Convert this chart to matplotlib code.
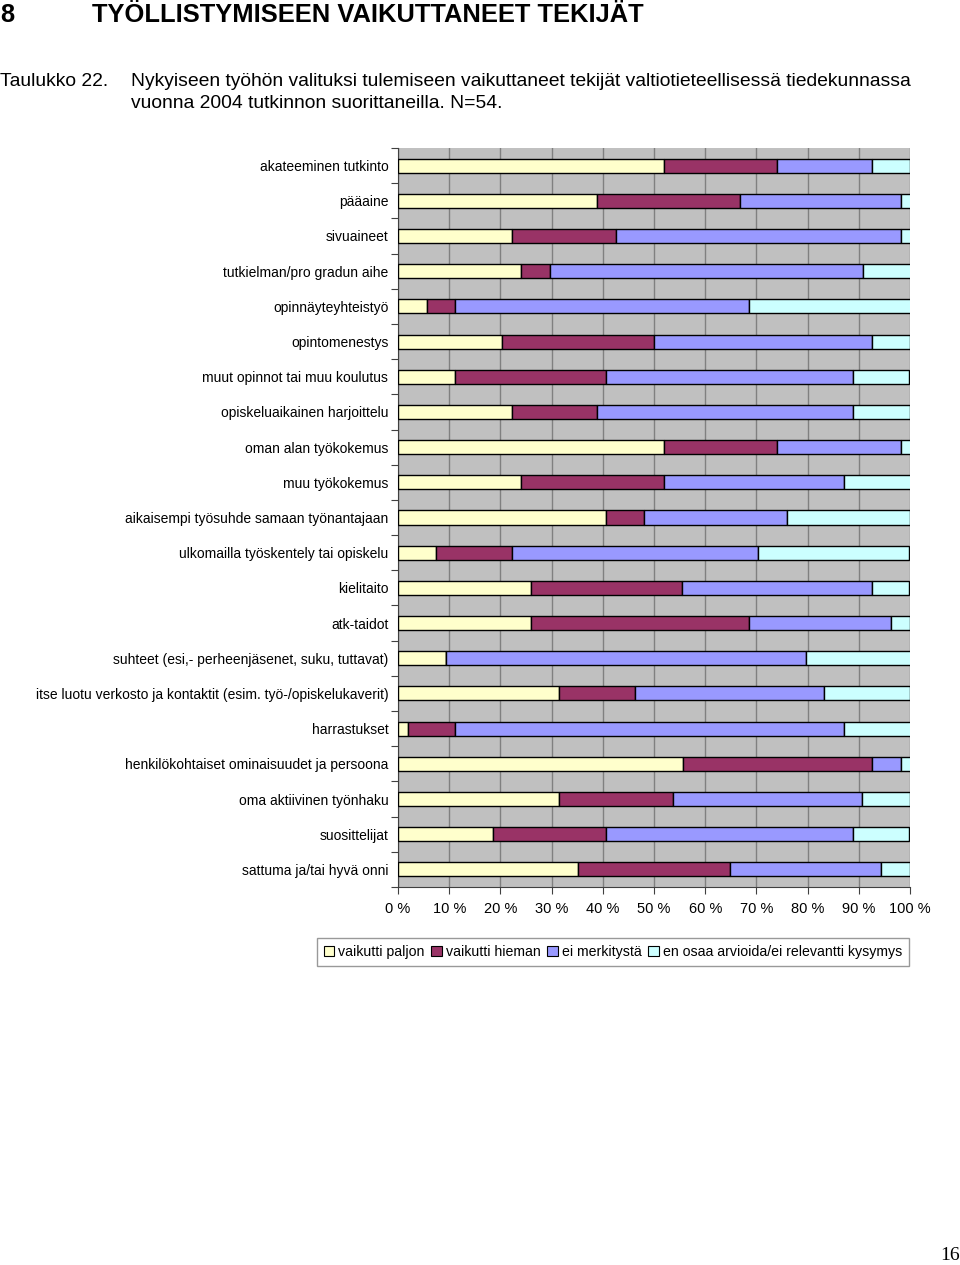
import matplotlib
matplotlib.use("Agg")
import matplotlib.pyplot as plt
from matplotlib.patches import Rectangle
import numpy as np

plt.rcParams['font.family'] = ['Liberation Sans', 'DejaVu Sans']

categories = [
    "akateeminen tutkinto",
    "pääaine",
    "sivuaineet",
    "tutkielman/pro gradun aihe",
    "opinnäyteyhteistyö",
    "opintomenestys",
    "muut opinnot tai muu koulutus",
    "opiskeluaikainen harjoittelu",
    "oman alan työkokemus",
    "muu työkokemus",
    "aikaisempi työsuhde samaan työnantajaan",
    "ulkomailla työskentely tai opiskelu",
    "kielitaito",
    "atk-taidot",
    "suhteet (esi,- perheenjäsenet, suku, tuttavat)",
    "itse luotu verkosto ja kontaktit (esim. työ-/opiskelukaverit)",
    "harrastukset",
    "henkilökohtaiset ominaisuudet ja persoona",
    "oma aktiivinen työnhaku",
    "suosittelijat",
    "sattuma ja/tai hyvä onni",
]

vaikutti_paljon = [51.9, 38.9, 22.2, 24.1, 5.6, 20.4, 11.1, 22.2, 51.9, 24.1,
                   40.7, 7.4, 25.9, 25.9, 9.3, 31.5, 1.9, 55.6, 31.5, 18.5, 35.2]
vaikutti_hieman = [22.2, 27.8, 20.4, 5.6, 5.6, 29.6, 29.6, 16.7, 22.2, 27.8,
                   7.4, 14.8, 29.6, 42.6, 0.0, 14.8, 9.3, 37.0, 22.2, 22.2, 29.6]
ei_merkitysta = [18.5, 31.5, 55.6, 61.1, 57.4, 42.6, 48.1, 50.0, 24.1, 35.2,
                 27.8, 48.1, 37.0, 27.8, 70.4, 37.0, 75.9, 5.6, 37.0, 48.1, 29.6]
en_osaa = [7.4, 1.9, 1.9, 9.3, 31.5, 7.4, 11.1, 11.1, 1.9, 13.0,
           24.1, 29.6, 7.4, 3.7, 20.4, 16.7, 13.0, 1.9, 9.3, 11.1, 5.6]

series_names = ["vaikutti paljon", "vaikutti hieman", "ei merkitystä",
                "en osaa arvioida/ei relevantti kysymys"]
series_values = [vaikutti_paljon, vaikutti_hieman, ei_merkitysta, en_osaa]
colors = ["#FFFFCC", "#993366", "#9999FF", "#CCFFFF"]
xtick_values = list(range(0, 101, 10))
xtick_labels = [f"{v} %" for v in xtick_values]

W, H = 960, 1265
fig = plt.figure(figsize=(W / 100, H / 100), dpi=100)
fig.patch.set_facecolor("white")

ax = fig.add_axes([398 / W, 1 - 887 / H, 512 / W, (887 - 148) / H])
ax.set_facecolor("#C0C0C0")

n = len(categories)
ypos = np.arange(n)
left = np.zeros(n)
for vals, col in zip(series_values, colors):
    v = np.array(vals, dtype=float)
    ax.barh(ypos, v, left=left, height=0.4, color=col, edgecolor="black",
            linewidth=1.0, zorder=3)
    left = left + v

ax.set_xlim(0, 100)
ax.set_ylim(n - 0.5, -0.5)

ax.set_xticks(xtick_values)
ax.set_xticklabels(xtick_labels, fontsize=10.5)
ax.tick_params(axis="x", direction="out", length=5, width=0.8, color="#404040",
               pad=6)
ax.grid(axis="x", color="#808080", linewidth=1.0, zorder=0)

ax.set_yticks(np.arange(-0.5, n, 1.0))
ax.set_yticklabels([])
ax.tick_params(axis="y", which="major", direction="out", length=5, width=0.8,
               color="#404040")
ax.set_yticks(ypos, minor=True)
ax.set_yticklabels(categories, minor=True, fontsize=10)
ax.tick_params(axis="y", which="minor", length=0, pad=7)

for side in ["top", "right"]:
    ax.spines[side].set_visible(False)
for side in ["left", "bottom"]:
    ax.spines[side].set_color("#404040")
    ax.spines[side].set_linewidth(0.8)

handles = [Rectangle((0, 0), 1, 1, facecolor=c, edgecolor="black", linewidth=0.8)
           for c in colors]
leg = fig.legend(handles, series_names, loc="center",
                 bbox_to_anchor=(613 / W, 1 - 952 / H), ncol=4, fontsize=10.2,
                 frameon=True, fancybox=False, edgecolor="#808080",
                 handlelength=0.75, handleheight=0.75, handletextpad=0.3,
                 columnspacing=0.45, borderpad=0.5)
leg.get_frame().set_linewidth(1.0)

# page header texts
fig.text(0 / W, 1 - 15 / H, "8", fontsize=18.4, fontweight="bold",
         va="center", ha="left")
fig.text(92 / W, 1 - 15 / H, "TYÖLLISTYMISEEN VAIKUTTANEET TEKIJÄT", fontsize=18.4,
         fontweight="bold", va="center", ha="left")
fig.text(0 / W, 1 - 82 / H, "Taulukko 22.", fontsize=13.9,
         va="center", ha="left")
fig.text(131 / W, 1 - 82 / H,
         "Nykyiseen työhön valituksi tulemiseen vaikuttaneet tekijät valtiotieteellisessä tiedekunnassa",
         fontsize=13.9, va="center", ha="left")
fig.text(131 / W, 1 - 103 / H, "vuonna 2004 tutkinnon suorittaneilla. N=54.",
         fontsize=13.9, va="center", ha="left")
fig.text(960 / W, 1 - 1255 / H, "16", fontsize=14,
         family=['Liberation Serif', 'DejaVu Serif'], va="center", ha="right")

fig.savefig("out.png", dpi=100, facecolor="white")
